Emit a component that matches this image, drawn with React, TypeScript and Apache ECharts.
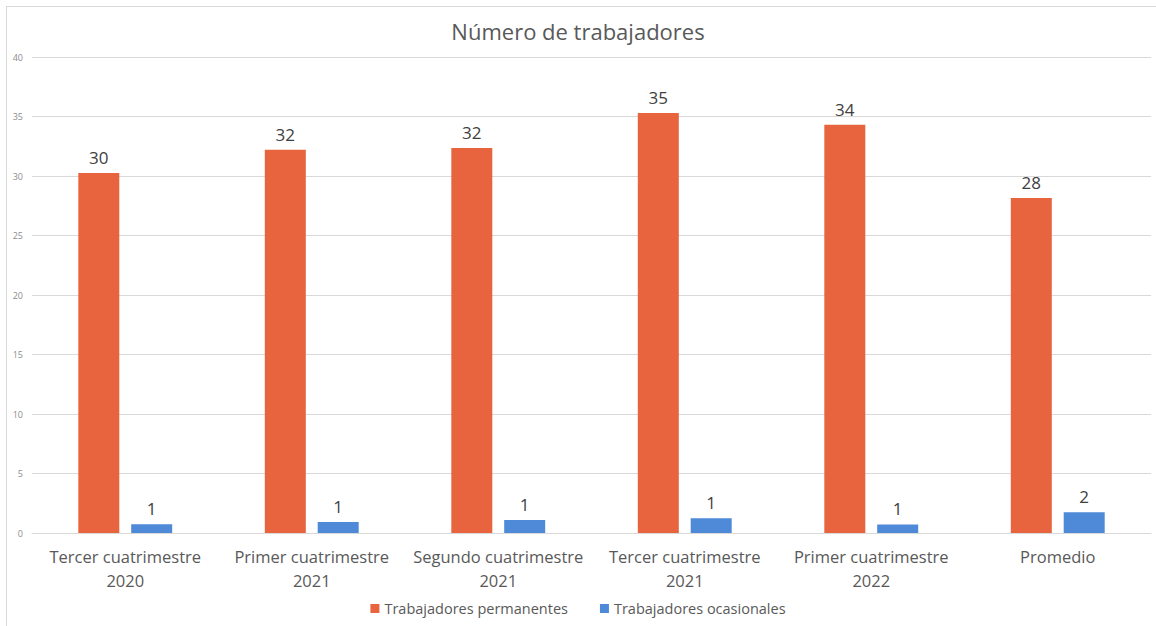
import React, { useEffect, useRef } from "react";
import * as echarts from "echarts";

const categories = [
  "Tercer cuatrimestre\n2020",
  "Primer cuatrimestre\n2021",
  "Segundo cuatrimestre\n2021",
  "Tercer cuatrimestre\n2021",
  "Primer cuatrimestre\n2022",
  "Promedio",
];
const permanentes = [30.25, 32.2, 32.35, 35.3, 34.3, 28.15];
const ocasionales = [0.73, 0.92, 1.09, 1.24, 0.72, 1.74];
const seriesNames = ["Trabajadores permanentes", "Trabajadores ocasionales"];

const FONT = "'Open Sans', 'Noto Sans', sans-serif";

export default function App() {
  const ref = useRef<HTMLDivElement>(null);
  useEffect(() => {
    document.body.style.margin = "0";
    const chart = echarts.init(ref.current!, null, { renderer: "svg" });
    const label = {
      show: true,
      position: "top",
      distance: 7,
      fontSize: 17,
      color: "#404040",
      fontFamily: FONT,
      formatter: (p: any) => String(Math.round(p.value)),
    };
    chart.setOption({
      animation: false,
      backgroundColor: "#ffffff",
      title: {
        text: "Número de trabajadores",
        left: "center",
        top: 15,
        textStyle: { fontSize: 22, fontWeight: "normal", color: "#595959", fontFamily: FONT },
      },
      legend: {
        bottom: 5,
        left: "center",
        itemWidth: 9,
        itemHeight: 9,
        itemGap: 32,
        icon: "rect",
        textStyle: { fontSize: 14.5, color: "#595959", fontFamily: FONT },
        data: seriesNames,
      },
      grid: { left: 32, right: 5, top: 57, bottom: 93 },
      xAxis: {
        type: "category",
        data: categories,
        axisLine: { show: true, lineStyle: { color: "#d9d9d9" } },
        axisTick: { show: false },
        axisLabel: {
          fontSize: 16.5,
          color: "#595959",
          fontFamily: FONT,
          lineHeight: 24,
          margin: 11,
          interval: 0,
        },
      },
      yAxis: {
        type: "value",
        min: 0,
        max: 40,
        interval: 5,
        axisLine: { show: false },
        axisTick: { show: false },
        axisLabel: { fontSize: 9, color: "#8c8c8c", fontFamily: FONT, margin: 9 },
        splitLine: { lineStyle: { color: "#d9d9d9" } },
      },
      series: [
        {
          name: seriesNames[0],
          type: "bar",
          data: permanentes,
          barWidth: 41,
          barGap: "29%",
          itemStyle: { color: "#e8643f" },
          label,
        },
        {
          name: seriesNames[1],
          type: "bar",
          data: ocasionales,
          barWidth: 41,
          itemStyle: { color: "#4e8ad8" },
          label,
        },
      ],
      graphic: [
        { type: "line", shape: { x1: 6, y1: 6.5, x2: 1156, y2: 6.5 }, style: { stroke: "#d9d9d9", lineWidth: 1 } },
        { type: "line", shape: { x1: 6.5, y1: 6, x2: 6.5, y2: 626 }, style: { stroke: "#d9d9d9", lineWidth: 1 } },
      ],
    });
    return () => chart.dispose();
  }, []);
  return <div ref={ref} style={{ width: 1156, height: 626 }} />;
}
